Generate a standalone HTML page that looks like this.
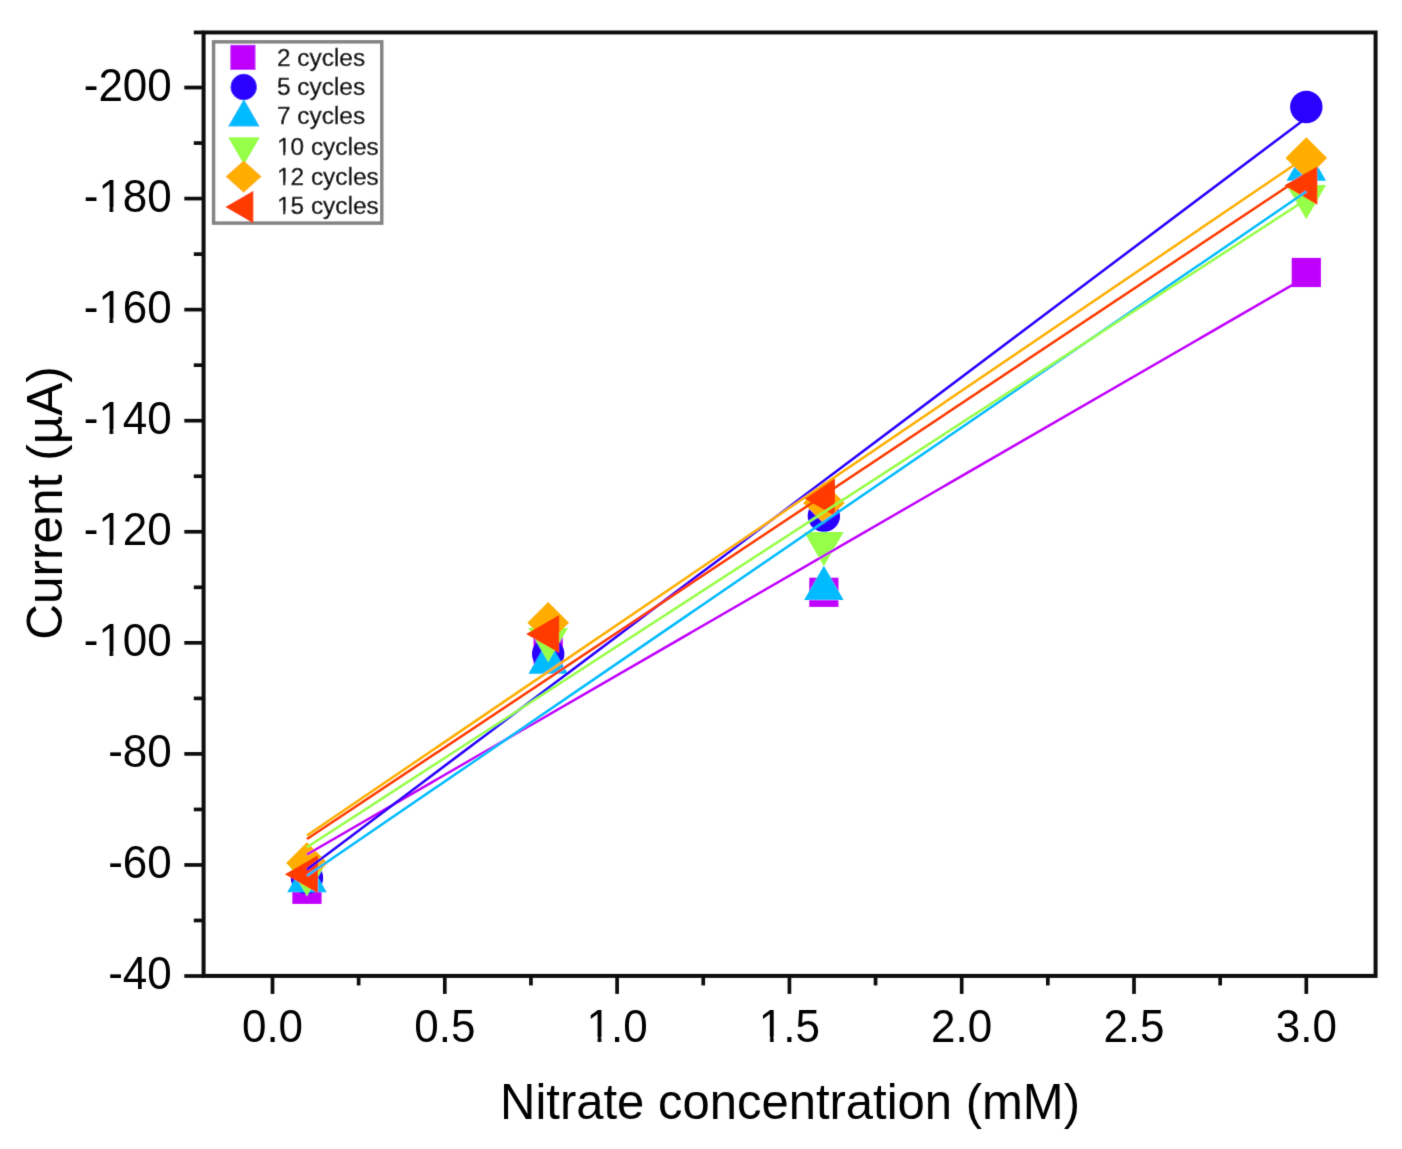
<!DOCTYPE html>
<html><head><meta charset="utf-8"><title>Current vs Nitrate concentration</title>
<style>
html,body{margin:0;padding:0;background:#fff;}
body{width:1402px;height:1149px;overflow:hidden;font-family:"Liberation Sans",sans-serif;}
svg{display:block;}
text{font-family:"Liberation Sans",sans-serif;fill:#000;}
</style></head><body>
<svg width="1402" height="1149" viewBox="0 0 1402 1149">
<defs><filter id="soft" x="0" y="0" width="100%" height="100%" filterUnits="userSpaceOnUse"><feConvolveMatrix order="3" kernelMatrix="0.01832 0.13534 0.01832 0.13534 1.00000 0.13534 0.01832 0.13534 0.01832" divisor="1.6146036885013877" edgeMode="duplicate"/></filter></defs>
<rect x="0" y="0" width="1402" height="1149" fill="#fff"/>
<g filter="url(#soft)">
<g id="markers">
<rect x="292.36" y="874.70" width="29.20" height="29.20" fill="#C000FF"/>
<rect x="533.58" y="635.40" width="29.20" height="29.20" fill="#C000FF"/>
<rect x="809.26" y="577.70" width="29.20" height="29.20" fill="#C000FF"/>
<rect x="1291.70" y="257.90" width="29.20" height="29.20" fill="#C000FF"/>
<circle cx="306.96" cy="878.00" r="16.20" fill="#2A00FF"/>
<circle cx="548.18" cy="654.00" r="16.20" fill="#2A00FF"/>
<circle cx="823.86" cy="515.70" r="16.20" fill="#2A00FF"/>
<circle cx="1306.30" cy="107.00" r="16.20" fill="#2A00FF"/>
<polygon points="306.96,858.00 326.71,892.20 287.21,892.20" fill="#00BBFF"/>
<polygon points="548.18,639.50 567.93,673.70 528.43,673.70" fill="#00BBFF"/>
<polygon points="823.86,565.70 843.61,599.90 804.11,599.90" fill="#00BBFF"/>
<polygon points="1306.30,146.50 1326.05,180.70 1286.55,180.70" fill="#00BBFF"/>
<polygon points="306.96,896.30 326.71,862.10 287.21,862.10" fill="#96FF46"/>
<polygon points="548.18,662.30 567.93,628.10 528.43,628.10" fill="#96FF46"/>
<polygon points="823.86,566.20 843.61,532.00 804.11,532.00" fill="#96FF46"/>
<polygon points="1306.30,219.20 1326.05,185.00 1286.55,185.00" fill="#96FF46"/>
<polygon points="306.96,842.20 327.76,863.00 306.96,883.80 286.16,863.00" fill="#FFAE00"/>
<polygon points="548.18,602.00 568.98,622.80 548.18,643.60 527.38,622.80" fill="#FFAE00"/>
<polygon points="823.86,482.20 844.66,503.00 823.86,523.80 803.06,503.00" fill="#FFAE00"/>
<polygon points="1306.30,137.20 1327.10,158.00 1306.30,178.80 1285.50,158.00" fill="#FFAE00"/>
<polygon points="284.96,874.20 317.96,855.15 317.96,893.25" fill="#FF3A00"/>
<polygon points="526.18,634.00 559.18,614.95 559.18,653.05" fill="#FF3A00"/>
<polygon points="801.86,497.00 834.86,477.95 834.86,516.05" fill="#FF3A00"/>
<polygon points="1284.30,185.60 1317.30,166.55 1317.30,204.65" fill="#FF3A00"/>
</g>
<g id="fits" stroke-width="2.5" fill="none" stroke-linecap="butt">
<line x1="306.96" y1="854.47" x2="1306.30" y2="276.90" stroke="#C000FF"/>
<line x1="306.96" y1="869.49" x2="1306.30" y2="117.88" stroke="#2A00FF"/>
<line x1="306.96" y1="875.75" x2="1306.30" y2="191.50" stroke="#00BBFF"/>
<line x1="306.96" y1="847.28" x2="1306.30" y2="199.49" stroke="#96FF46"/>
<line x1="306.96" y1="835.53" x2="1306.30" y2="156.76" stroke="#FFAE00"/>
<line x1="306.96" y1="839.00" x2="1306.30" y2="173.97" stroke="#FF3A00"/>
</g>
<rect x="203.6" y="32.45" width="1172.0" height="943.4499999999999" fill="none" stroke="#111" stroke-width="4.0"/>
<g stroke="#111" stroke-width="3.7"><line x1="184.30" y1="976.01" x2="203.60" y2="976.01"/><line x1="193.80" y1="920.48" x2="203.60" y2="920.48"/><line x1="184.30" y1="864.95" x2="203.60" y2="864.95"/><line x1="193.80" y1="809.42" x2="203.60" y2="809.42"/><line x1="184.30" y1="753.89" x2="203.60" y2="753.89"/><line x1="193.80" y1="698.36" x2="203.60" y2="698.36"/><line x1="184.30" y1="642.83" x2="203.60" y2="642.83"/><line x1="193.80" y1="587.30" x2="203.60" y2="587.30"/><line x1="184.30" y1="531.77" x2="203.60" y2="531.77"/><line x1="193.80" y1="476.24" x2="203.60" y2="476.24"/><line x1="184.30" y1="420.71" x2="203.60" y2="420.71"/><line x1="193.80" y1="365.18" x2="203.60" y2="365.18"/><line x1="184.30" y1="309.65" x2="203.60" y2="309.65"/><line x1="193.80" y1="254.12" x2="203.60" y2="254.12"/><line x1="184.30" y1="198.59" x2="203.60" y2="198.59"/><line x1="193.80" y1="143.06" x2="203.60" y2="143.06"/><line x1="184.30" y1="87.53" x2="203.60" y2="87.53"/><line x1="193.80" y1="32.45" x2="203.60" y2="32.45"/><line x1="272.50" y1="975.90" x2="272.50" y2="993.90"/><line x1="358.65" y1="975.90" x2="358.65" y2="985.40"/><line x1="444.80" y1="975.90" x2="444.80" y2="993.90"/><line x1="530.95" y1="975.90" x2="530.95" y2="985.40"/><line x1="617.10" y1="975.90" x2="617.10" y2="993.90"/><line x1="703.25" y1="975.90" x2="703.25" y2="985.40"/><line x1="789.40" y1="975.90" x2="789.40" y2="993.90"/><line x1="875.55" y1="975.90" x2="875.55" y2="985.40"/><line x1="961.70" y1="975.90" x2="961.70" y2="993.90"/><line x1="1047.85" y1="975.90" x2="1047.85" y2="985.40"/><line x1="1134.00" y1="975.90" x2="1134.00" y2="993.90"/><line x1="1220.15" y1="975.90" x2="1220.15" y2="985.40"/><line x1="1306.30" y1="975.90" x2="1306.30" y2="993.90"/></g>
<g><g transform="translate(108.22,989.41) scale(1,1.04)"><text x="0" y="0" font-size="44">-40</text></g><g transform="translate(108.22,878.35) scale(1,1.04)"><text x="0" y="0" font-size="44">-60</text></g><g transform="translate(108.22,767.29) scale(1,1.04)"><text x="0" y="0" font-size="44">-80</text></g><g transform="translate(83.76,656.23) scale(1,1.04)"><text x="0" y="0" font-size="44">-100</text><rect x="15.97" y="-4.40" width="9.64" height="8.80" fill="#fff"/><rect x="29.66" y="-4.40" width="9.24" height="8.80" fill="#fff"/></g><g transform="translate(83.76,545.17) scale(1,1.04)"><text x="0" y="0" font-size="44">-120</text><rect x="15.97" y="-4.40" width="9.64" height="8.80" fill="#fff"/><rect x="29.66" y="-4.40" width="9.24" height="8.80" fill="#fff"/></g><g transform="translate(83.76,434.11) scale(1,1.04)"><text x="0" y="0" font-size="44">-140</text><rect x="15.97" y="-4.40" width="9.64" height="8.80" fill="#fff"/><rect x="29.66" y="-4.40" width="9.24" height="8.80" fill="#fff"/></g><g transform="translate(83.76,323.05) scale(1,1.04)"><text x="0" y="0" font-size="44">-160</text><rect x="15.97" y="-4.40" width="9.64" height="8.80" fill="#fff"/><rect x="29.66" y="-4.40" width="9.24" height="8.80" fill="#fff"/></g><g transform="translate(83.76,211.99) scale(1,1.04)"><text x="0" y="0" font-size="44">-180</text><rect x="15.97" y="-4.40" width="9.64" height="8.80" fill="#fff"/><rect x="29.66" y="-4.40" width="9.24" height="8.80" fill="#fff"/></g><g transform="translate(83.76,100.93) scale(1,1.04)"><text x="0" y="0" font-size="44">-200</text></g><g transform="translate(241.92,1041.80) scale(1,1.04)"><text x="0" y="0" font-size="44">0.0</text></g><g transform="translate(414.22,1041.80) scale(1,1.04)"><text x="0" y="0" font-size="44">0.5</text></g><g transform="translate(586.52,1041.80) scale(1,1.04)"><text x="0" y="0" font-size="44">1.0</text><rect x="1.32" y="-4.40" width="9.64" height="8.80" fill="#fff"/><rect x="15.00" y="-4.40" width="9.24" height="8.80" fill="#fff"/></g><g transform="translate(758.82,1041.80) scale(1,1.04)"><text x="0" y="0" font-size="44">1.5</text><rect x="1.32" y="-4.40" width="9.64" height="8.80" fill="#fff"/><rect x="15.00" y="-4.40" width="9.24" height="8.80" fill="#fff"/></g><g transform="translate(931.12,1041.80) scale(1,1.04)"><text x="0" y="0" font-size="44">2.0</text></g><g transform="translate(1103.42,1041.80) scale(1,1.04)"><text x="0" y="0" font-size="44">2.5</text></g><g transform="translate(1275.72,1041.80) scale(1,1.04)"><text x="0" y="0" font-size="44">3.0</text></g></g>
<g transform="translate(790,1119) scale(1,1.03)"><text x="0" y="0" text-anchor="middle" font-size="49">Nitrate concentration (mM)</text></g>
<text transform="translate(62,503) rotate(-90)" x="0" y="0" text-anchor="middle" font-size="49.5">Current (µA)</text>
<rect x="213.6" y="41.85" width="168.15" height="181.25" fill="#fff" stroke="#848484" stroke-width="3.5"/>
<rect x="230.30" y="44.80" width="25.20" height="25.20" fill="#C000FF"/>
<circle cx="243.70" cy="87.00" r="13.20" fill="#2A00FF"/>
<polygon points="243.90,99.00 259.75,126.45 228.05,126.45" fill="#00BBFF"/>
<polygon points="244.00,164.70 259.85,137.25 228.15,137.25" fill="#96FF46"/>
<polygon points="243.65,160.40 261.65,176.60 243.65,192.80 225.65,176.60" fill="#FFAE00"/>
<polygon points="225.30,207.00 253.35,190.81 253.35,223.19" fill="#FF3A00"/>
<g transform="translate(277.00,65.70) scale(1,1.0)"><text x="0" y="0" font-size="24.4" stroke="#000" stroke-width="0.4">2 cycles</text></g>
<g transform="translate(277.00,94.80) scale(1,1.0)"><text x="0" y="0" font-size="24.4" stroke="#000" stroke-width="0.4">5 cycles</text></g>
<g transform="translate(277.00,124.30) scale(1,1.0)"><text x="0" y="0" font-size="24.4" stroke="#000" stroke-width="0.4">7 cycles</text></g>
<g transform="translate(277.00,154.60) scale(1,1.0)"><text x="0" y="0" font-size="24.4" stroke="#000" stroke-width="0.4">10 cycles</text><rect x="0.73" y="-2.44" width="5.34" height="4.88" fill="#fff"/><rect x="8.32" y="-2.44" width="5.12" height="4.88" fill="#fff"/></g>
<g transform="translate(277.00,184.60) scale(1,1.0)"><text x="0" y="0" font-size="24.4" stroke="#000" stroke-width="0.4">12 cycles</text><rect x="0.73" y="-2.44" width="5.34" height="4.88" fill="#fff"/><rect x="8.32" y="-2.44" width="5.12" height="4.88" fill="#fff"/></g>
<g transform="translate(277.00,213.80) scale(1,1.0)"><text x="0" y="0" font-size="24.4" stroke="#000" stroke-width="0.4">15 cycles</text><rect x="0.73" y="-2.44" width="5.34" height="4.88" fill="#fff"/><rect x="8.32" y="-2.44" width="5.12" height="4.88" fill="#fff"/></g>
</g></svg></body></html>
